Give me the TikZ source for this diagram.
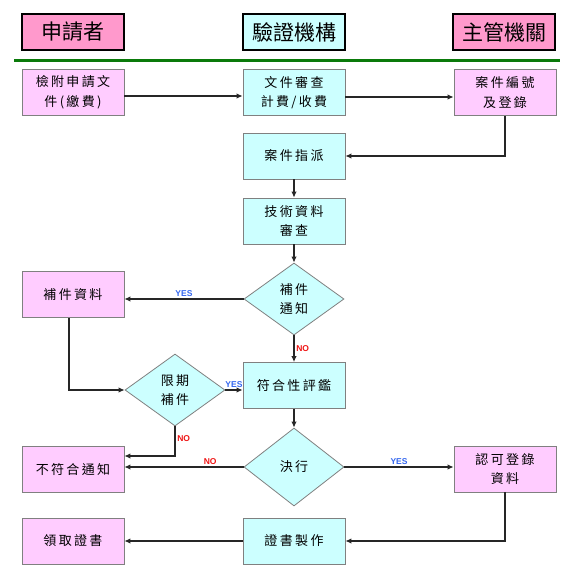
\documentclass[tikz,border=0pt]{standalone}
\usepackage{fontspec}
\usetikzlibrary{shapes.geometric,arrows.meta}
\newfontfamily\cjkbody[LetterSpace=18]{Noto Sans CJK TC}
\newfontfamily\cjkhead{Noto Sans CJK TC}
\newfontfamily\labfont{Liberation Sans}
\definecolor{hpink}{HTML}{FF99CC}
\definecolor{bpink}{HTML}{FFCCFF}
\definecolor{bcyan}{HTML}{CCFFFF}
\definecolor{lgreen}{HTML}{0A7A0A}
\definecolor{yesblue}{HTML}{3366EE}
\definecolor{nored}{HTML}{EE1111}
\begin{document}
\begin{tikzpicture}[x=1pt,y=-1pt,
  hdr/.style={draw=black, line width=1.8pt, minimum width=102pt, minimum height=36pt, inner sep=0pt, font=\cjkhead\fontsize{21}{24}\selectfont},
  pbox/.style={draw=gray, line width=0.8pt, fill=bpink, minimum width=102pt, minimum height=46pt, inner sep=0pt, align=center, font=\cjkbody\fontsize{13}{19.5}\selectfont},
  cbox/.style={pbox, fill=bcyan},
  dec/.style={diamond, draw=gray, fill=bcyan, line width=0.8pt, minimum width=100pt, minimum height=72pt, inner sep=0pt, align=center, font=\cjkbody\fontsize{13}{19.5}\selectfont},
  arr/.style={-{Latex[length=6pt,width=5.5pt]}, line width=1.5pt, draw=black!85},
  yes/.style={font=\labfont\bfseries\fontsize{8.5}{10}\selectfont, text=yesblue, inner sep=1.5pt},
  no/.style={font=\labfont\bfseries\fontsize{8.5}{10}\selectfont, text=nored, inner sep=1.5pt}
]
\useasboundingbox (0,0) rectangle (560,575);
% headers
\node[hdr, fill=hpink] (h1) at (73,32) {申請者};
\node[hdr, fill=bcyan] (h2) at (294,32) {驗證機構};
\node[hdr, fill=hpink] (h3) at (504,32) {主管機關};
\draw[lgreen, line width=3pt] (14,61) -- (560,61);
% row 1
\node[pbox] (a1) at (73,92.5) {檢附申請文\\件(繳費)};
\node[cbox] (a2) at (294,92.5) {文件審查\\計費/收費};
\node[pbox] (a3) at (505,92.5) {案件編號\\及登錄};
\node[cbox] (b2) at (294,156) {案件指派};
\node[cbox] (c2) at (294,221) {技術資料\\審查};
\node[dec] (d2) at (294,299) {補件\\通知};
\node[pbox] (d1) at (73,294.5) {補件資料};
\node[cbox] (e2) at (294,385.5) {符合性評鑑};
\node[dec] (d3) at (175,390) {限期\\補件};
\node[dec, minimum height=78pt] (f2) at (294,467) {決行};
\node[pbox] (f1) at (73,469.5) {不符合通知};
\node[pbox] (f3) at (505,469) {認可登錄\\資料};
\node[cbox] (g2) at (294,541) {證書製作};
\node[pbox] (g1) at (73,541) {領取證書};
% connectors
\draw[arr] (a1.east |- 0,96) -- (a2.west |- 0,96);
\draw[arr] (a2.east |- 0,97) -- (a3.west |- 0,97);
\draw[arr] (a3.south) |- (b2.east);
\draw[arr] (b2) -- (c2);
\draw[arr] (c2) -- (d2);
\draw[arr] (d2.west) -- (d2.west -| d1.east) node[yes, midway, above] {YES};
\draw[arr] (d2.south) -- (e2.north) node[no, midway, right] {NO};
\draw[arr] ([xshift=-4pt]d1.south) |- (d3.west);
\draw[arr] (d3.east) -- (d3.east -| e2.west) node[yes, midway, above] {YES};
\draw[arr] (d3.south) |- (f1.east |- 0,456) node[no, pos=0.2, right] {NO};
\draw[arr] (e2) -- (f2);
\draw[arr] (f2.west) -- (f2.west -| f1.east) node[no, pos=0.28, above] {NO};
\draw[arr] (f2.east) -- (f2.east -| f3.west) node[yes, midway, above] {YES};
\draw[arr] (f3.south) |- (g2.east);
\draw[arr] (g2) -- (g1);
\end{tikzpicture}
\end{document}
